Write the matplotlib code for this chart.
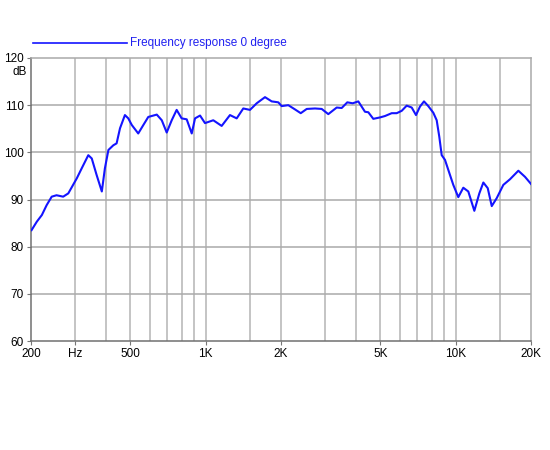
import matplotlib.pyplot as plt
import numpy as np

plt.rcParams['font.family'] = ['Liberation Sans', 'DejaVu Sans']

freq = [201, 211, 221, 231, 242, 253, 269, 282, 305, 319, 339, 350, 366, 384, 395,
        408, 427, 440, 454, 475, 490, 506, 537, 563, 589, 637, 667, 698, 731, 765,
        801, 839, 879, 906, 949, 993, 1072, 1158, 1250, 1330, 1413, 1503, 1599, 1726,
        1836, 1951, 2013, 2139, 2275, 2399, 2535, 2735, 2910, 3092, 3341, 3498, 3683,
        3871, 4076, 4335, 4469, 4680, 4977, 5212, 5544, 5805, 6079, 6366, 6666, 6935,
        7194, 7464, 7766, 8132, 8391, 8594, 8787, 9057, 9484, 9777, 10238, 10721,
        11226, 11868, 12428, 12894, 13428, 13932, 14589, 15502, 16488, 17801, 18929, 20000]
spl = [83.5, 85.3, 86.7, 88.8, 90.6, 90.9, 90.6, 91.3, 94.5, 96.6, 99.4, 98.7, 95.2,
       91.7, 96.6, 100.5, 101.5, 101.9, 105.1, 107.9, 107.2, 105.8, 104.0, 105.8, 107.5,
       108.0, 106.8, 104.2, 106.8, 109.0, 107.2, 107.0, 104.0, 107.2, 107.8, 106.2,
       106.8, 105.6, 107.9, 107.2, 109.3, 109.0, 110.4, 111.7, 110.8, 110.6, 109.8,
       110.0, 109.1, 108.3, 109.2, 109.3, 109.2, 108.1, 109.5, 109.4, 110.6, 110.4,
       110.8, 108.6, 108.5, 107.1, 107.4, 107.7, 108.3, 108.3, 108.8, 109.9, 109.5,
       107.9, 109.7, 110.8, 109.8, 108.4, 106.8, 103.3, 99.4, 98.4, 95.2, 93.1, 90.5,
       92.5, 91.7, 87.6, 91.3, 93.6, 92.4, 88.6, 90.3, 93.1, 94.3, 96.1, 94.8, 93.3]

grid_x = [300, 400, 500, 600, 700, 800, 900, 1000, 1500, 2000, 3000, 4000, 5000,
          6000, 7000, 8000, 9000, 10000, 15000]
xtick_pos = [200, 300, 500, 1000, 2000, 5000, 10000, 20000]
xtick_lab = ['200', 'Hz', '500', '1K', '2K', '5K', '10K', '20K']
yticks = [60, 70, 80, 90, 100, 110, 120]

fig = plt.figure(figsize=(5.5, 4.5), dpi=100)
ax = fig.add_axes([31 / 550, 1 - 341 / 450, 500 / 550, 283 / 450])

for g in grid_x:
    ax.axvline(g, color='#b4b4b4', linewidth=1.1, zorder=1)
for y in yticks[1:-1]:
    ax.axhline(y, color='#aaaaaa', linewidth=1.1, zorder=1)

ax.plot(freq, spl, color='#1414ff', linewidth=1.5, zorder=3)

ax.set_xscale('log')
ax.set_xlim(200, 20000)
ax.set_ylim(60, 120)
ax.set_xticks(xtick_pos)
ax.set_xticklabels(xtick_lab)
ax.xaxis.set_minor_locator(plt.NullLocator())
ax.set_yticks(yticks)
ax.tick_params(labelsize=8.5, length=3, width=0.8, color='#777777', pad=2)
for s in ax.spines.values():
    s.set_color('#aaaaaa')
    s.set_linewidth(1.1)
ax.spines['left'].set_color('#707070')
ax.spines['bottom'].set_color('#707070')

fig.text(27 / 550, 1 - 72 / 450, 'dB', ha='right', va='center', fontsize=8.5)

fig.add_artist(plt.Line2D([33 / 550, 127 / 550], [1 - 43 / 450, 1 - 43 / 450],
                          color='#1414ff', linewidth=1.2))
fig.text(130 / 550, 1 - 43 / 450, 'Frequency response 0 degree', color='#2020f0',
         ha='left', va='center', fontsize=8.5)

plt.savefig('out.png', dpi=100)
